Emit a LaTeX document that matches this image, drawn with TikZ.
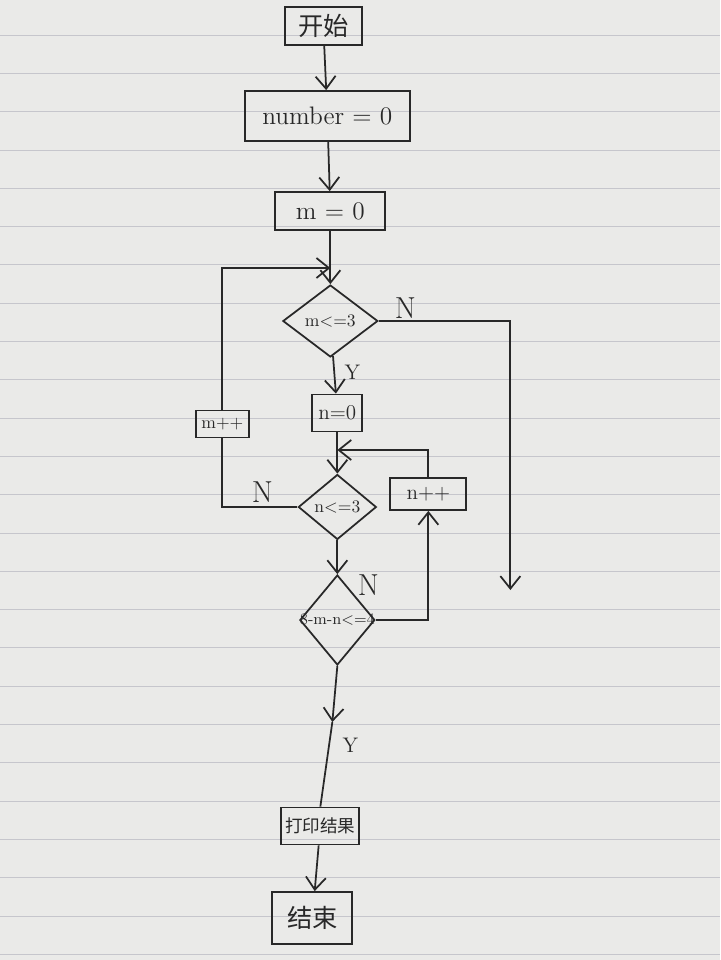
\documentclass[tikz,border=0pt]{standalone}
\usepackage{fontspec}
\newfontfamily\cjk{Noto Sans CJK SC}
\usetikzlibrary{shapes.geometric,arrows.meta}
\definecolor{paper}{RGB}{234,234,232}
\definecolor{ruling}{RGB}{198,198,204}
\definecolor{pen}{RGB}{40,40,40}
\tikzset{
  >={Straight Barb[length=2.5mm,width=4mm]},
  box/.style={draw=pen, rectangle, line width=1pt, inner sep=2pt, text=pen},
  cond/.style={draw=pen, diamond, line width=1pt, inner sep=0pt},
  flow/.style={draw=pen, line width=1pt, ->},
  link/.style={draw=pen, line width=1pt},
  tag/.style={text=pen, font=\LARGE}
}
\begin{document}
\begin{tikzpicture}[x=0.02cm,y=-0.02cm]
        % lined paper
        \fill[paper] (0,0) rectangle (720,960);
        \foreach \k in {0,...,24} \draw[ruling, thin] (0,{35+38.3*\k}) -- (720,{35+38.3*\k});
        \useasboundingbox (0,0) rectangle (720,960);
        \node[box, minimum width=1.54cm, minimum height=0.76cm, font=\cjk\Large] (start) at (323,26) {开始};
        \node[box, minimum width=3.3cm, minimum height=1cm, font=\Large] (num) at (327,116) {number = 0};
        \node[box, minimum width=2.2cm, minimum height=0.76cm, font=\Large] (m0) at (330,211) {m = 0};
        \node[cond, minimum width=1.9cm, minimum height=1.44cm, label={[text=pen]center:m<=3}] (d1) at (330,321) {};
        \node[box, minimum width=1cm, minimum height=0.74cm, font=\large] (n0) at (337,413) {n=0};
        \node[box, minimum width=1.06cm, minimum height=0.54cm, inner sep=1pt] (mpp) at (222,424) {m++};
        \node[cond, minimum width=1.56cm, minimum height=1.3cm, label={[text=pen]center:n<=3}] (d2) at (337,507) {};
        \node[box, minimum width=1.52cm, minimum height=0.64cm, font=\large] (npp) at (428,494) {n++};
        \node[cond, minimum width=1.5cm, minimum height=1.8cm, label={[text=pen, font=\small]center:8-m-n<=4}] (d3) at (337,620) {};
        \node[box, minimum width=1.56cm, minimum height=0.74cm, font=\cjk] (print) at (320,826) {打印结果};
        \node[box, minimum width=1.6cm, minimum height=1.04cm, font=\cjk\Large] (stop) at (312,918) {结束};
        % joins and free ends
        \coordinate (join1) at (330,268);
        \coordinate (join2) at (337,450);
        \coordinate (nend) at (510,590);
        \coordinate (yarr) at (332,722);
        \draw[flow] (start) -- (num);
        \draw[flow] (num) -- (m0);
        \draw[flow] (m0) -- (d1);
        \draw[flow] (d1) -- (n0);
        \draw[flow] (n0) -- (d2);
        \draw[flow] (d2) -- (d3);
        \draw[flow] (d3.south) -- (yarr);
        \draw[link] (yarr) -- (print.north);
        \draw[flow] (print) -- (stop);
        \draw[flow] (mpp.north) |- (join1);
        \draw[flow] (npp.north) |- (join2);
        \draw[flow] (d1.east) -| (nend);
        \draw[link] (d2.west) -| (mpp.south);
        \draw[flow] (d3.east) -| (npp.south);
        \node[tag] (n1) at (405,308) {N};
        \node[tag, font=\large] (y1) at (352,372) {Y};
        \node[tag] (n2) at (262,492) {N};
        \node[tag] (n3) at (368,585) {N};
        \node[tag, font=\large] (y2) at (350,745) {Y};
\end{tikzpicture}
\end{document}
